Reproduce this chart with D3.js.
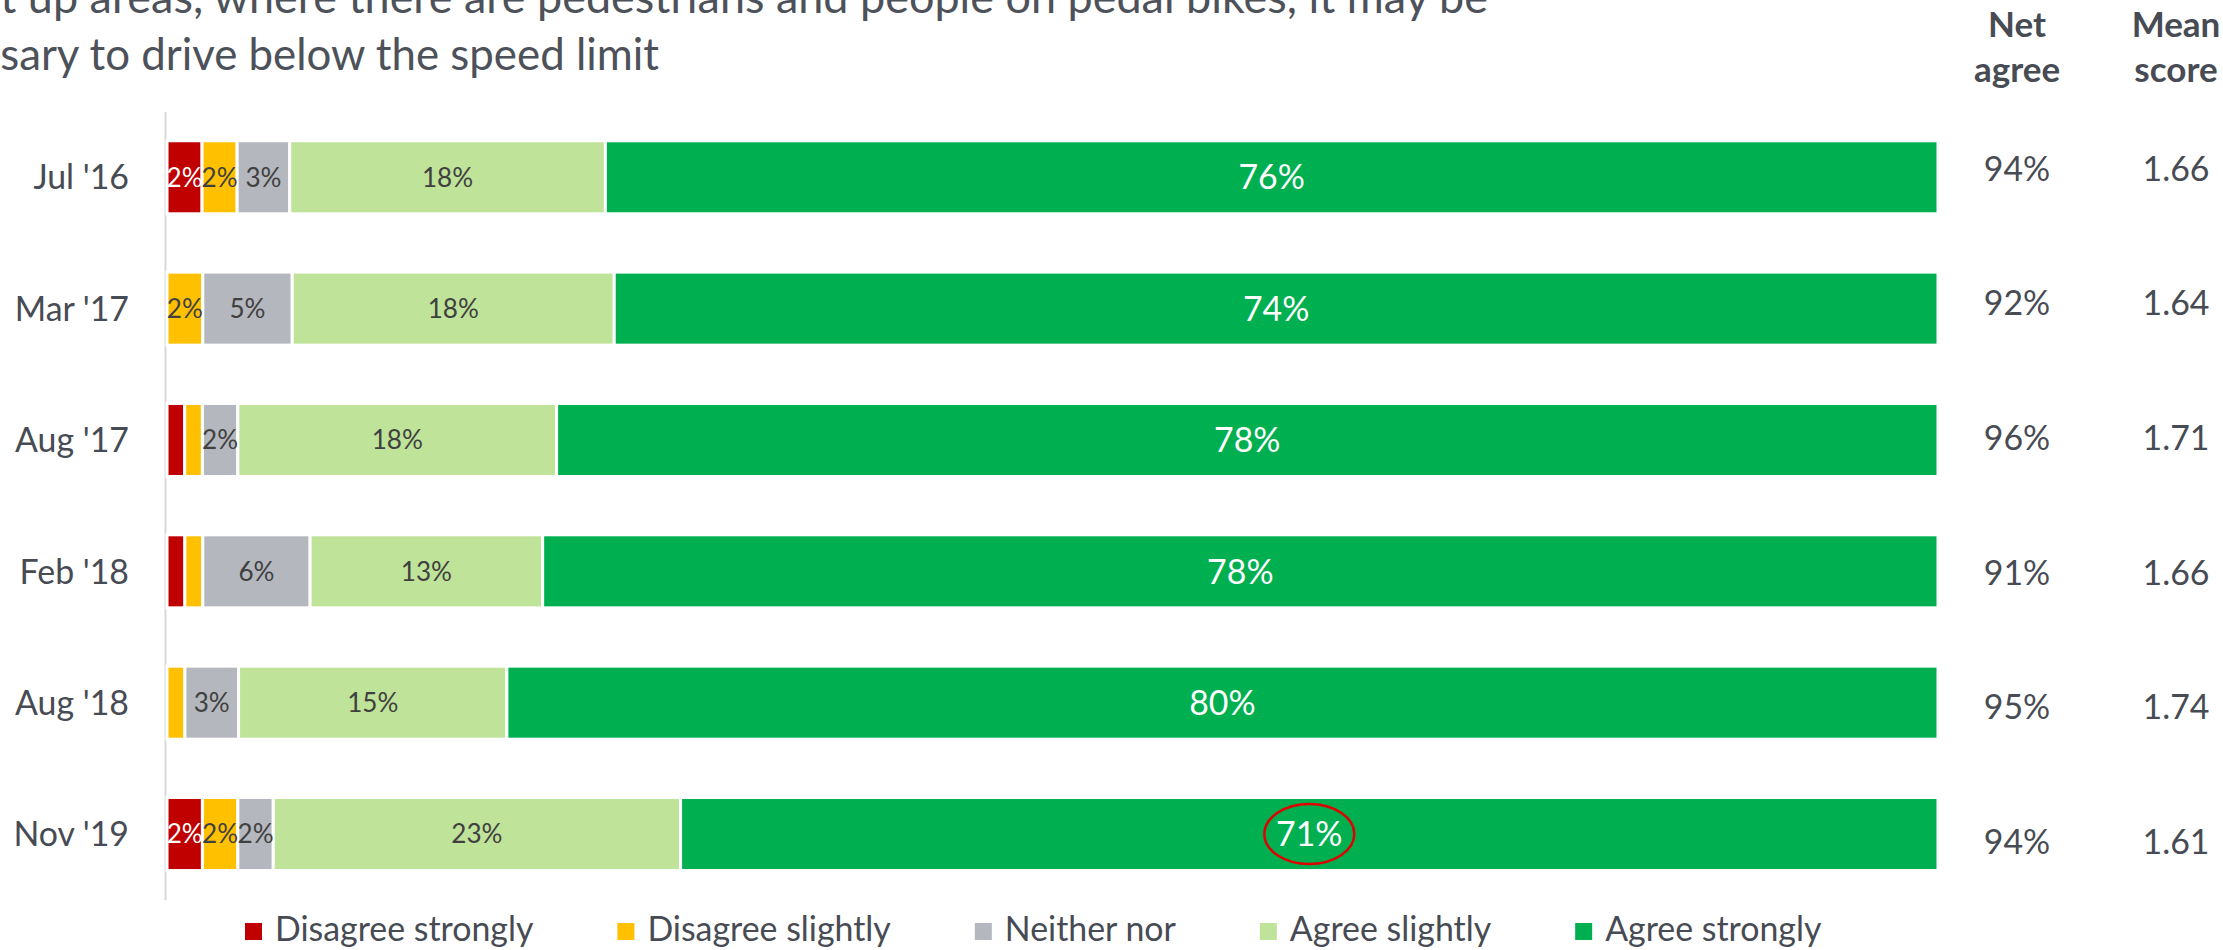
<!DOCTYPE html>
<html>
<head>
<meta charset="utf-8">
<script src="https://cdn.jsdelivr.net/npm/d3@7"></script>
<style>
  html, body { margin: 0; padding: 0; background: #fff; overflow: hidden; }
  svg { display: block; }
</style>
</head>
<body>
<svg id="chart" width="2223" height="950"></svg>
<script>
// ---- data ----
const categories = ["Jul '16", "Mar '17", "Aug '17", "Feb '18", "Aug '18", "Nov '19"];
const seriesNames = ["Disagree strongly", "Disagree slightly", "Neither nor", "Agree slightly", "Agree strongly"];
const disagreeStrongly = [2, 0, 1, 1, 0, 2];
const disagreeSlightly = [2, 2, 1, 1, 1, 2];
const neitherNor       = [3, 5, 2, 6, 3, 2];
const agreeSlightly    = [18, 18, 18, 13, 15, 23];
const agreeStrongly    = [76, 74, 78, 78, 80, 71];
const netAgree  = ["94%", "92%", "96%", "91%", "95%", "94%"];
const meanScore = ["1.66", "1.64", "1.71", "1.66", "1.74", "1.61"];
const titleLines = [
  "In built up areas, where there are pedestrians and people on pedal bikes, it may be",
  "necessary to drive below the speed limit"
];
const tableHeaders = [["Net", "agree"], ["Mean", "score"]];
const highlight = { category: "Nov '19", series: "Agree strongly" };

// ---- styles ----
const seriesColors = ["#C00000", "#FFC000", "#B4B7BD", "#BFE399", "#00B050"];
const labelColors  = ["#FFFFFF", "#404040", "#404040", "#404040", "#FFFFFF"];
const textColor = "#474B53";
const FONT = "Lato, 'Open Sans', sans-serif";

const svg = d3.select("#chart");

// Scale Lato so its advance widths follow the Calibri metrics the layout was built on
function widthAt100(str, weight) {
  const t = svg.append("text").attr("font-family", FONT).attr("font-size", 100)
    .attr("font-weight", weight).text(str);
  const w = t.node().getComputedTextLength();
  t.remove();
  return w;
}
const kReg  = 698.6 / widthAt100("Disagree strongly", "normal");
const kBold = 232.9 / widthAt100("agree", "bold");
const fs  = px => px * kReg;
const fsB = px => px * kBold;

// ---- scales ----
const rows = categories.map((c, i) => ({
  category: c,
  "Disagree strongly": disagreeStrongly[i],
  "Disagree slightly": disagreeSlightly[i],
  "Neither nor": neitherNor[i],
  "Agree slightly": agreeSlightly[i],
  "Agree strongly": agreeStrongly[i]
}));
const layers = d3.stack().keys(seriesNames).offset(d3.stackOffsetExpand)(rows);

const x = d3.scaleLinear().domain([0, 1]).range([167, 1938]);
const y = d3.scaleBand().domain(categories).range([111.6, 899.7])
  .paddingInner(0.444).paddingOuter(0.222);
const yTable = d3.scaleBand().domain(categories).range([101.3, 908.8]);

// ---- title (runs off the left edge of the slide) ----
// each line is sized so its visible tail spans the same width as on the slide
const titleFit = [
  { tail: "t up areas, where there are pedestrians and people on pedal bikes, it may be", right: 1488, base: 13 },
  { tail: "sary to drive below the speed limit", right: 659, base: 70 }
];
const title = svg.append("g").attr("fill", "#4D5159").attr("font-family", FONT).attr("text-anchor", "end");
titleLines.forEach((line, i) => {
  const f = titleFit[i];
  title.append("text").attr("x", f.right).attr("y", f.base)
    .attr("font-size", f.right / widthAt100(f.tail, "normal") * 100)
    .text(line);
});

// ---- category axis ----
const axis = svg.append("g").attr("transform", "translate(165,0)")
  .call(d3.axisLeft(y).tickSize(0).tickPadding(36));
axis.select(".domain").attr("stroke", "#D9D9D9").attr("stroke-width", 2);
axis.selectAll(".tick text").attr("font-family", FONT).attr("font-size", fs(37))
  .attr("fill", textColor).attr("dy", "0.36em");

// ---- stacked bars ----
const layerG = svg.append("g").selectAll("g").data(layers).join("g")
  .attr("fill", (d, i) => seriesColors[i]);
layerG.selectAll("rect").data(d => d).join("rect")
  .attr("x", d => x(d[0]))
  .attr("width", d => Math.max(0, x(d[1]) - x(d[0])))
  .attr("y", d => y(d.data.category))
  .attr("height", y.bandwidth())
  .attr("stroke", "#fff").attr("stroke-width", 3);

// segment labels
layers.forEach((layer, li) => {
  svg.append("g").selectAll("text")
    .data(layer.filter(d => d.data[layer.key] >= 2))
    .join("text")
    .attr("x", d => x((d[0] + d[1]) / 2))
    .attr("y", d => y(d.data.category) + y.bandwidth() / 2)
    .attr("dy", "0.36em")
    .attr("text-anchor", "middle")
    .attr("font-family", FONT)
    .attr("font-size", li === 4 ? fs(37) : fs(28.5))
    .attr("fill", labelColors[li])
    .text(d => d.data[layer.key] + "%");
});

// highlight ring around one value
const hLayer = layers.find(l => l.key === highlight.series);
const hSeg = hLayer.find(d => d.data.category === highlight.category);
svg.append("ellipse")
  .attr("cx", x((hSeg[0] + hSeg[1]) / 2))
  .attr("cy", y(highlight.category) + y.bandwidth() / 2)
  .attr("rx", 45).attr("ry", 30)
  .attr("fill", "none").attr("stroke", "#E00000").attr("stroke-width", 2.5);

// ---- side table ----
const colX = [2017, 2176];
const table = svg.append("g").attr("font-family", FONT).attr("text-anchor", "middle").attr("fill", textColor);
tableHeaders.forEach((lines, ci) => {
  lines.forEach((line, li) => {
    table.append("text").attr("x", colX[ci]).attr("y", 37 + li * 45)
      .attr("font-weight", "bold").attr("font-size", fsB(37)).text(line);
  });
});
[netAgree, meanScore].forEach((vals, ci) => {
  table.append("g").selectAll("text").data(vals).join("text")
    .attr("x", colX[ci])
    .attr("y", (d, i) => yTable(categories[i]) + yTable.bandwidth() / 2)
    .attr("dy", "0.36em")
    .attr("font-size", fs(37))
    .text(d => d);
});

// ---- legend ----
const legend = svg.append("g").attr("font-family", FONT).attr("font-size", fs(37)).attr("fill", textColor);
let lx = 245;
seriesNames.forEach((name, i) => {
  legend.append("rect").attr("x", lx).attr("y", 923).attr("width", 17).attr("height", 17)
    .attr("fill", seriesColors[i]);
  const t = legend.append("text").attr("x", lx + 30).attr("y", 941).text(name);
  lx += 30 + t.node().getComputedTextLength() + 84;
});
</script>
</body>
</html>
